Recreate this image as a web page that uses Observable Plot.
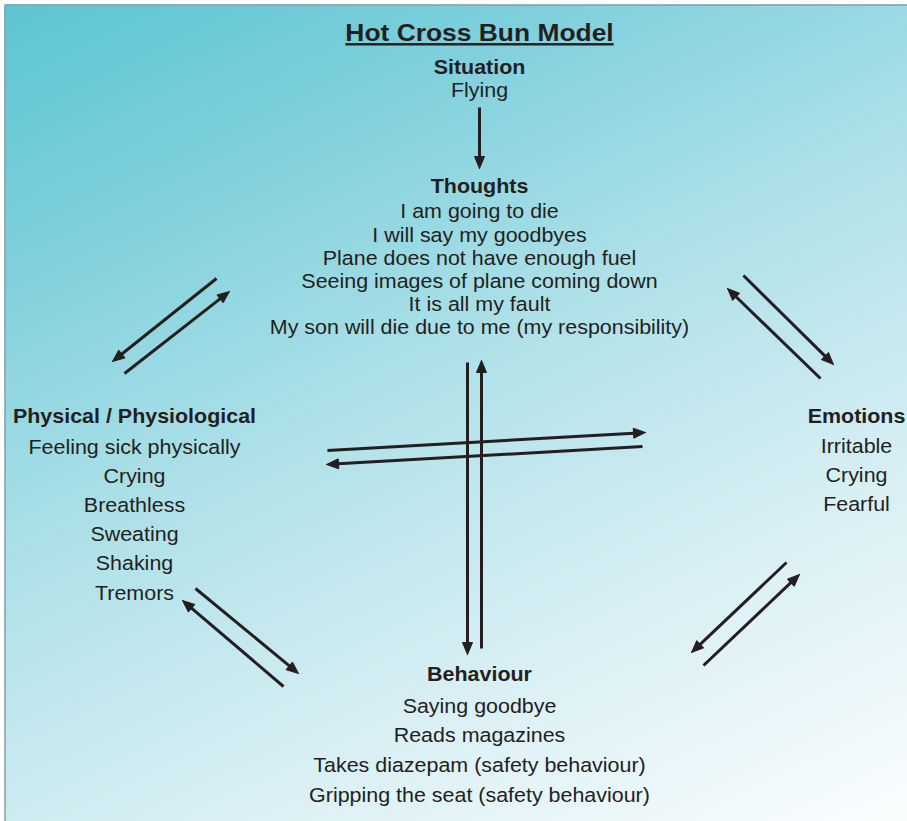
<!DOCTYPE html>
<html><head><meta charset="utf-8">
<script src="https://cdn.jsdelivr.net/npm/d3@7"></script>
<script src="https://cdn.jsdelivr.net/npm/@observablehq/plot@0.6"></script>
<style>html,body{margin:0;padding:0;background:#fff}</style>
</head><body><div id="chart"></div>
<script>
// ---- content ----
const title = "Hot Cross Bun Model";
const headings = ["Situation", "Thoughts", "Physical / Physiological", "Emotions", "Behaviour"];
const situation = ["Flying"];
const thoughts = [
  "I am going to die",
  "I will say my goodbyes",
  "Plane does not have enough fuel",
  "Seeing images of plane coming down",
  "It is all my fault",
  "My son will die due to me (my responsibility)"
];
const physical = ["Feeling sick physically", "Crying", "Breathless", "Sweating", "Shaking", "Tremors"];
const emotions = ["Irritable", "Crying", "Fearful"];
const behaviour = [
  "Saying goodbye",
  "Reads magazines",
  "Takes diazepam (safety behaviour)",
  "Gripping the seat (safety behaviour)"
];

// ---- layout (diagram coordinates) ----
const blockX = [479, 479, 134, 856, 479];
const blockY = [
  [67, 90],
  [186, 211, 235, 258, 281, 304, 327],
  [416, 447, 476, 505, 534, 563, 593],
  [416, 446, 475, 504],
  [674, 706, 735, 765, 795]
];
const blockLines = [situation, thoughts, physical, emotions, behaviour];

// arrows: start x, start y, tip x, tip y
const arrowX1 = [479, 467, 481, 327, 642, 216, 124, 743, 820, 195, 283, 786, 703];
const arrowY1 = [107, 362, 648, 450, 446, 278, 373, 275, 378, 588, 686, 562, 665];
const arrowX2 = [479, 467, 481, 645, 326, 112, 229, 833, 727, 298, 182, 691, 799];
const arrowY2 = [168, 654, 360, 432, 464, 361, 291, 364, 288, 673, 600, 652, 574];

// ---- tables ----
const labels = [{text: title, x: 479, y: 33, kind: "title"}];
headings.forEach((h, b) => {
  labels.push({text: h, x: blockX[b], y: blockY[b][0], kind: "head"});
  blockLines[b].forEach((t, i) => labels.push({text: t, x: blockX[b], y: blockY[b][i + 1], kind: "body"}));
});

const headLen = 12, headHalf = 5;
const shafts = [], heads = [];
arrowX1.forEach((x1, i) => {
  const y1 = arrowY1[i], x2 = arrowX2[i], y2 = arrowY2[i];
  const dx = x2 - x1, dy = y2 - y1, len = Math.hypot(dx, dy);
  const ux = dx / len, uy = dy / len;
  shafts.push({x1, y1, x2: x2 - ux * headLen * 0.6, y2: y2 - uy * headLen * 0.6});
  const bx = x2 - ux * headLen, by = y2 - uy * headLen;
  heads.push({id: i, x: x2, y: y2}, {id: i, x: bx - uy * headHalf, y: by + ux * headHalf},
             {id: i, x: bx + uy * headHalf, y: by - ux * headHalf}, {id: i, x: x2, y: y2});
});

const ink = "#231f20";
const font = "'Liberation Sans', Arial, Helvetica, sans-serif";
const W = 907, H = 821;

const svg = Plot.plot({
  width: W, height: H, margin: 0,
  x: {domain: [0, W], range: [0, W], axis: null},
  y: {domain: [0, H], range: [0, H], axis: null},
  marks: [
    Plot.frame({fill: "url(#bgGrad)", stroke: null, insetLeft: 4, insetTop: 4}),
    Plot.frame({stroke: "#8e9ea3", strokeWidth: 1.5, fill: "none", insetLeft: 4.5, insetTop: 4.5, insetRight: -5, insetBottom: -5}),
    Plot.link(shafts, {x1: "x1", y1: "y1", x2: "x2", y2: "y2", stroke: ink, strokeWidth: 3}),
    Plot.line(heads, {x: "x", y: "y", z: "id", fill: ink, stroke: ink, strokeWidth: 1, curve: "linear"}),
    Plot.text(labels.filter(d => d.kind === "title"), {x: "x", y: "y", text: "text", fontSize: 24, fontWeight: "bold", fill: ink, fontFamily: font}),
    Plot.text(labels.filter(d => d.kind === "head"), {x: "x", y: "y", text: "text", fontSize: 19.5, fontWeight: "bold", fill: ink, fontFamily: font}),
    Plot.text(labels.filter(d => d.kind === "body"), {x: "x", y: "y", text: "text", fontSize: 19.5, fill: ink, fontFamily: font})
  ]
});

// gradient background
const defs = d3.select(svg).insert("defs", ":first-child");
const grad = defs.append("linearGradient").attr("id", "bgGrad")
  .attr("gradientUnits", "userSpaceOnUse")
  .attr("x1", 0).attr("y1", 0).attr("x2", 497).attr("y2", 1021);
[[0, "#5cc4d2"], [0.22, "#7fd0dc"], [0.45, "#ade0e8"], [0.72, "#d8eff4"], [1, "#fafdfe"]]
  .forEach(([o, c]) => grad.append("stop").attr("offset", o).attr("stop-color", c));

// widen glyphs horizontally like the original typeface
d3.select(svg).selectAll("text").each(function() {
  const t = d3.select(this);
  const tr = t.attr("transform");
  if (tr) t.attr("transform", tr + " scale(1.1,1)");
  else {
    const x = +t.attr("x") || 0, y = +t.attr("y") || 0;
    t.attr("x", null).attr("y", null).attr("transform", `translate(${x},${y}) scale(1.1,1)`);
  }
  if (t.text() === title) t.style("text-decoration", "underline");
});

document.getElementById("chart").appendChild(svg);
</script>
</body></html>
